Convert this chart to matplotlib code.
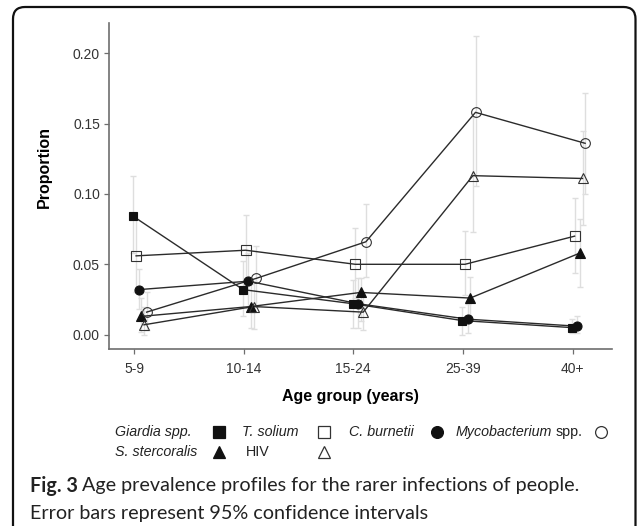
import numpy as np
import matplotlib
matplotlib.use("Agg")
import matplotlib.pyplot as plt
from matplotlib.patches import FancyBboxPatch
from matplotlib.lines import Line2D

# age groups on the x axis
age_groups = ["5-9", "10-14", "15-24", "25-39", "40+"]

# proportions and 95% CI
giardia = [0.084, 0.032, 0.022, 0.010, 0.005]
giardia_lo = [0.058, 0.013, 0.005, 0.000, 0.001]
giardia_hi = [0.113, 0.052, 0.039, 0.020, 0.011]

t_solium = [0.056, 0.060, 0.050, 0.050, 0.070]
t_solium_lo = [0.030, 0.035, 0.026, 0.028, 0.044]
t_solium_hi = [0.082, 0.085, 0.076, 0.074, 0.097]

c_burnetii = [0.032, 0.038, 0.022, 0.011, 0.006]
c_burnetii_lo = [0.018, 0.019, 0.005, 0.001, 0.001]
c_burnetii_hi = [0.047, 0.058, 0.040, 0.022, 0.013]

s_stercoralis = [0.013, 0.020, 0.030, 0.026, 0.058]
s_stercoralis_lo = [0.002, 0.005, 0.010, 0.010, 0.034]
s_stercoralis_hi = [0.026, 0.036, 0.040, 0.041, 0.082]

hiv = [0.007, 0.020, 0.016, 0.113, 0.111]
hiv_lo = [0.000, 0.004, 0.003, 0.073, 0.078]
hiv_hi = [0.020, 0.038, 0.030, 0.155, 0.145]

mycobacterium = [0.016, 0.040, 0.066, 0.158, 0.136]
mycobacterium_lo = [0.003, 0.020, 0.041, 0.106, 0.100]
mycobacterium_hi = [0.030, 0.063, 0.093, 0.212, 0.172]

# dodge order, marker, filled
series = [
    (giardia, giardia_lo, giardia_hi, "s", True, 6),
    (t_solium, t_solium_lo, t_solium_hi, "s", False, 6.5),
    (c_burnetii, c_burnetii_lo, c_burnetii_hi, "o", True, 6.5),
    (s_stercoralis, s_stercoralis_lo, s_stercoralis_hi, "^", True, 7),
    (hiv, hiv_lo, hiv_hi, "^", False, 7.5),
    (mycobacterium, mycobacterium_lo, mycobacterium_hi, "o", False, 7),
]

W, H = 637, 526
plt.rcParams['font.family'] = ['Liberation Sans', 'DejaVu Sans']

fig = plt.figure(figsize=(W / 100, H / 100), dpi=100)
ax = fig.add_axes([109 / W, 1 - 349 / H, (612 - 109) / W, (349 - 23) / H])

x = np.arange(len(age_groups))
line_col = "#2b2b2b"

for i, (vals, lo, hi, mk, filled, ms) in enumerate(series):
    xs = x - 0.005 + 0.024 * i
    vals = np.array(vals)
    err = [vals - np.array(lo), np.array(hi) - vals]
    ax.errorbar(xs, vals, yerr=err, fmt="none", ecolor="#dedede",
                elinewidth=1.0, capsize=2.5, capthick=1.0, zorder=1)
    ax.plot(xs, vals, color=line_col, lw=1.0, zorder=2)
    ax.plot(xs, vals, linestyle="none", marker=mk, ms=ms,
            markerfacecolor="#111111" if filled else "none",
            markeredgecolor="#111111" if filled else "#333333",
            markeredgewidth=0.8, zorder=3)

ax.set_xlim(-0.228, 4.36)
ax.set_ylim(-0.0102, 0.2215)
ax.set_xticks(x)
ax.set_xticklabels(age_groups)
ax.set_yticks([0.0, 0.05, 0.10, 0.15, 0.20])
ax.set_yticklabels(["0.00", "0.05", "0.10", "0.15", "0.20"])

for side in ["top", "right"]:
    ax.spines[side].set_visible(False)
for side in ["left", "bottom"]:
    ax.spines[side].set_color("#6e6e6e")
    ax.spines[side].set_linewidth(1.2)
ax.tick_params(axis="both", colors="#6e6e6e", length=3.5, width=0.9,
               labelsize=10, labelcolor="#333333")
ax.tick_params(axis="x", pad=6)
ax.tick_params(axis="y", pad=3)

ax.set_xlabel("Age group (years)", fontsize=11.5, fontweight="bold")
ax.set_ylabel("Proportion", fontsize=11.5, fontweight="bold")
ax.xaxis.set_label_coords((350 - 109) / (612 - 109), -(389 - 349) / (349 - 23))
ax.yaxis.set_label_coords(-(109 - 52) / (612 - 109), (349 - 167) / (349 - 23))

# manual legend (labels before keys, like the original)
def fx(px):
    return px / W

def fy(py):
    return 1 - py / H

fig.canvas.draw()
renderer = fig.canvas.get_renderer()

leg_size = 10.3
row1, row2 = 432, 452
labels = [
    ("Giardia spp.", 115, row1, "s", True, 219),
    ("T. solium", 242, row1, "s", False, 324),
    ("C. burnetii", 349, row1, "o", True, 437),
    ("Mycobacterium", 456, row1, "o", False, 601),
    ("S. stercoralis", 115, row2, "^", True, 219),
    ("HIV", 246, row2, "^", False, 324),
]
for text, tx, ty, mk, filled, mx in labels:
    style = "normal" if text == "HIV" else "italic"
    t = fig.text(fx(tx), fy(ty), text, fontsize=leg_size, style=style,
                 color="#222222", va="center", ha="left")
    if text == "Mycobacterium":
        bb = t.get_window_extent(renderer)
        fig.text(fx(bb.x1 + 3), fy(ty), "spp.", fontsize=leg_size,
                 color="#222222", va="center", ha="left")
    fig.add_artist(Line2D([fx(mx)], [fy(ty)], transform=fig.transFigure,
                          marker=mk, ms=8 if mk != "o" else 8.5,
                          markerfacecolor="#111111" if filled else "none",
                          markeredgecolor="#111111" if filled else "#333333",
                          markeredgewidth=0.9, linestyle="none"))

# caption
cap_size = 14.2
t1 = fig.text(fx(30), fy(486), "Fig. 3", fontsize=cap_size, fontweight="bold",
              family="Lato", color="#222222", va="center", ha="left")
bb = t1.get_window_extent(renderer)
fig.text(fx(bb.x1 + 4), fy(486),
         "Age prevalence profiles for the rarer infections of people.",
         fontsize=cap_size, family="Lato", color="#222222", va="center", ha="left")
fig.text(fx(30), fy(513), "Error bars represent 95% confidence intervals",
         fontsize=cap_size, family="Lato", color="#222222", va="center", ha="left")

# rounded frame round the figure
frame = FancyBboxPatch((0.13, -0.2), 6.225, 5.39,
                       boxstyle="round,pad=0,rounding_size=0.12",
                       transform=fig.dpi_scale_trans, facecolor="none",
                       edgecolor="#111111", linewidth=1.6, clip_on=False)
fig.add_artist(frame)

fig.savefig("out.png", dpi=100)
